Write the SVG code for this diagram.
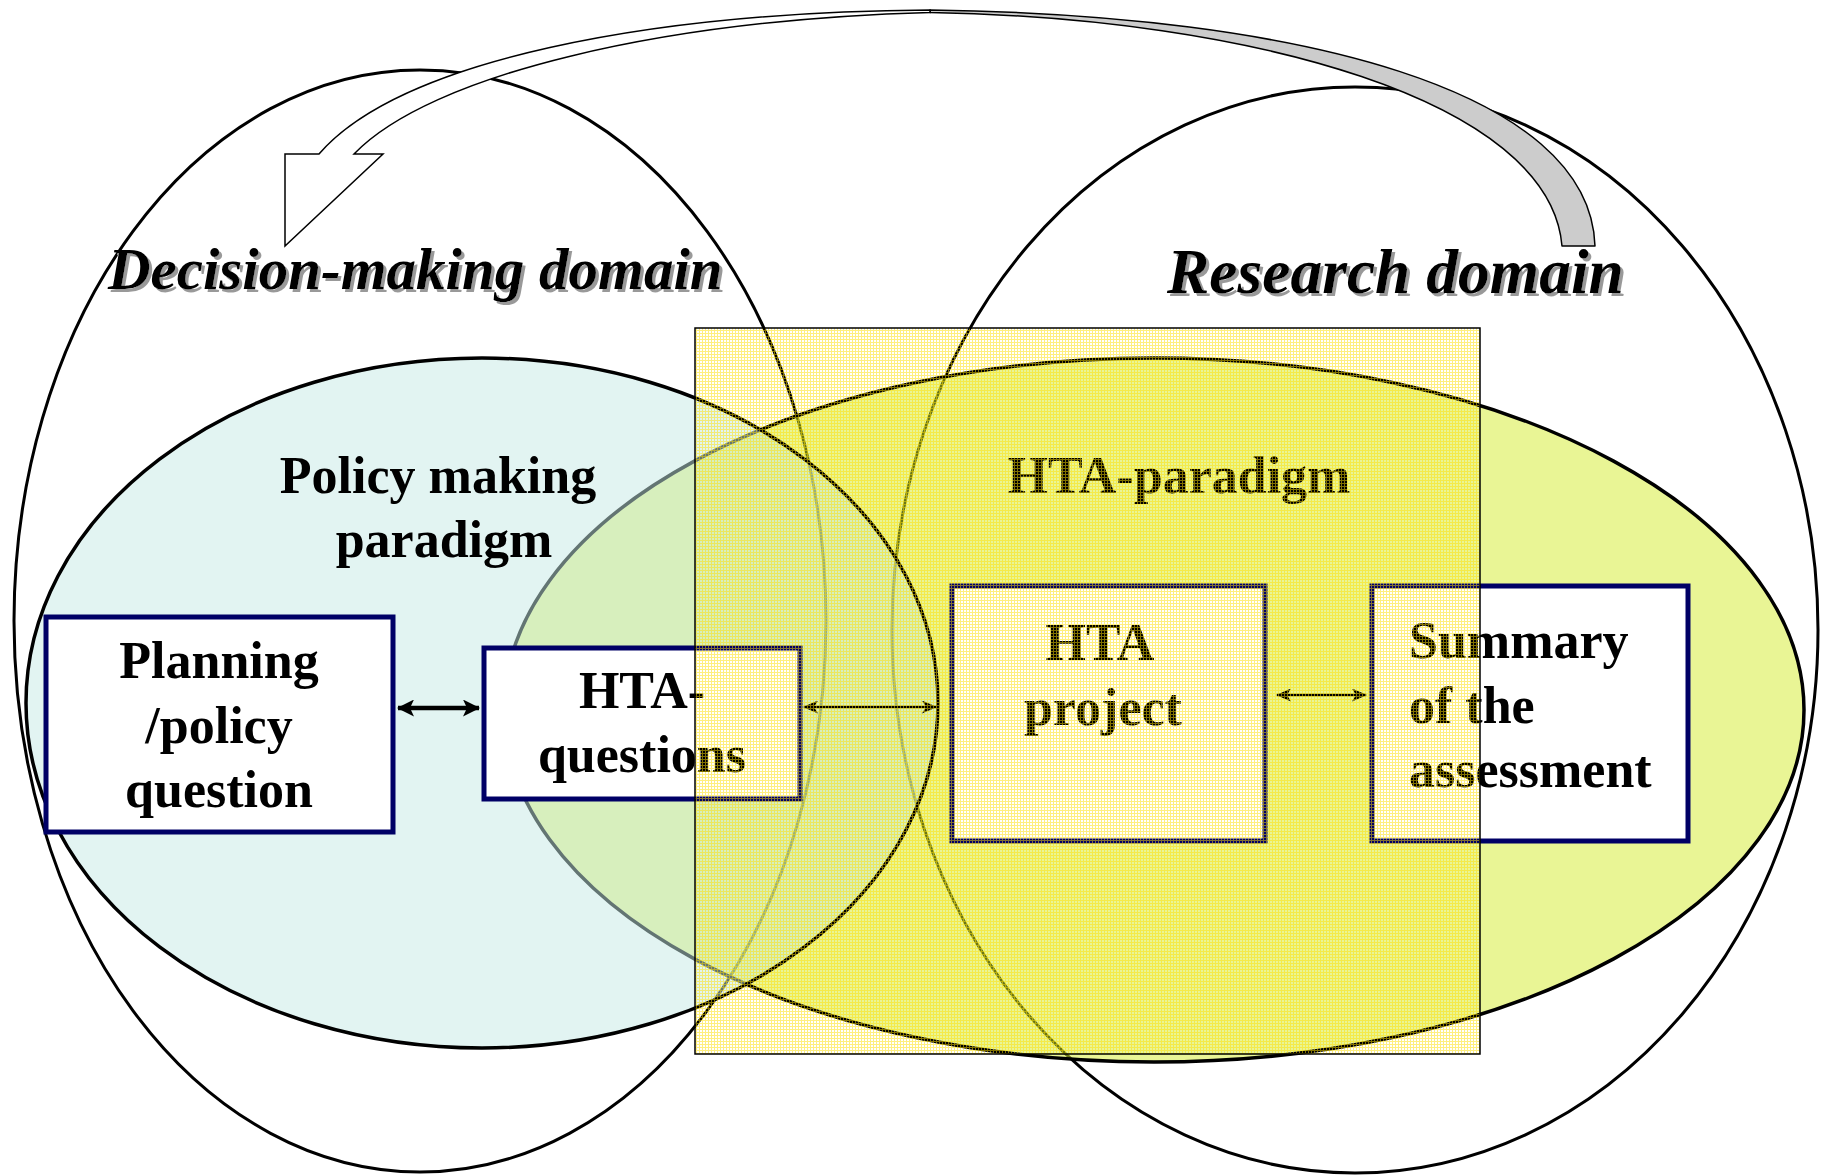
<svg xmlns="http://www.w3.org/2000/svg" width="1821" height="1175" viewBox="0 0 1821 1175">
<style>
.dom{fill:none;stroke:#000;stroke-width:3}
.par{stroke:#000;stroke-width:3.5}
.box{fill:#fff;stroke:#000066;stroke-width:5}
.t{font-family:"Liberation Serif","Times New Roman",serif;font-weight:bold;font-size:52px;fill:#000}
.title{font-family:"Liberation Serif","Times New Roman",serif;font-weight:bold;font-style:italic;fill:#000;filter:url(#sh)}
.con{stroke:#000;fill:none}
</style>
<defs>
<filter id="sh" x="-5%" y="-20%" width="110%" height="140%">
<feDropShadow dx="3" dy="3" stdDeviation="0.3" flood-color="#999" flood-opacity="1"/>
</filter>
<pattern id="grid" x="0" y="0" width="3" height="3" patternUnits="userSpaceOnUse">
<rect x="0" y="0" width="3" height="1" fill="#ffe000" fill-opacity="0.5"/>
<rect x="0" y="1" width="1" height="2" fill="#ffe000" fill-opacity="0.5"/>
</pattern>
<marker id="ah1" viewBox="0 0 17 17" refX="16" refY="8.5" markerWidth="17" markerHeight="17" markerUnits="userSpaceOnUse" orient="auto-start-reverse">
<path d="M0,0 L17,8.5 L0,17 L4,8.5 Z" fill="#000"/>
</marker>
<marker id="ah2" viewBox="0 0 15 13" refX="14" refY="6.5" markerWidth="15" markerHeight="13" markerUnits="userSpaceOnUse" orient="auto-start-reverse">
<path d="M0,0 L15,6.5 L0,13 L4,6.5 Z" fill="#000"/>
</marker>
</defs>
<rect width="1821" height="1175" fill="#fff"/>

<g id="decision-domain">
<ellipse class="dom" cx="420" cy="621" rx="406" ry="551"/>
</g>
<g id="research-domain">
<ellipse class="dom" cx="1355" cy="630" rx="463" ry="543"/>
</g>
<g id="hta-paradigm">
<ellipse class="par" cx="1154" cy="710" rx="650" ry="352" fill="#d4ec2c" fill-opacity="0.5"/>
<text class="t" x="1179" y="493" text-anchor="middle">HTA-paradigm</text>
</g>
<g id="policy-paradigm">
<ellipse class="par" cx="482" cy="703" rx="456" ry="345" fill="#c5e9e5" fill-opacity="0.5"/>
<text class="t" text-anchor="middle"><tspan x="438" y="493">Policy making</tspan><tspan x="444" y="557">paradigm</tspan></text>
</g>

<g id="planning">
<rect class="box" x="46" y="617" width="347" height="215"/>
<text class="t" text-anchor="middle"><tspan x="219" y="678">Planning</tspan><tspan x="219" y="743">/policy</tspan><tspan x="219" y="807">question</tspan></text>
</g>
<g id="hta-questions">
<rect class="box" x="484" y="648" width="316" height="151"/>
<text class="t" text-anchor="middle"><tspan x="642" y="708">HTA-</tspan><tspan x="642" y="772">questions</tspan></text>
</g>
<g id="hta-project">
<rect class="box" x="952" y="586" width="313" height="255"/>
<text class="t" text-anchor="middle"><tspan x="1100" y="660">HTA</tspan><tspan x="1103" y="725">project</tspan></text>
</g>
<g id="summary">
<rect class="box" x="1372" y="586" width="316" height="255"/>
<text class="t"><tspan x="1409" y="658">Summary</tspan><tspan x="1409" y="723">of the</tspan><tspan x="1409" y="787">assessment</tspan></text>
</g>

<g id="connectors">
<line class="con" x1="398" y1="708" x2="479" y2="708" stroke-width="4.5" marker-start="url(#ah1)" marker-end="url(#ah1)"/>
<line class="con" x1="804" y1="707" x2="936" y2="707" stroke-width="2.5" marker-start="url(#ah2)" marker-end="url(#ah2)"/>
<line class="con" x1="1277" y1="695" x2="1366" y2="695" stroke-width="2.5" marker-start="url(#ah2)" marker-end="url(#ah2)"/>
</g>

<g id="hta-overlay">
<rect x="695" y="328" width="785" height="726" fill="url(#grid)" stroke="#000" stroke-width="1.5"/>
</g>

<g id="curved-arrow">
<path d="M930,10 C1300,15 1590,90 1595,246 L1562,246 C1550,100 1250,18 930,12.5 Z" fill="#cccccc" stroke="#000" stroke-width="1.5" stroke-linejoin="round"/>
<path d="M319,154 C400,60 650,12 930,10 L930,12.5 C660,20 430,75 354,154 L383,154 L285,246 L285,154 Z" fill="#fff" stroke="#000" stroke-width="1.5" stroke-linejoin="miter"/>
</g>

<g id="titles">
<text class="title" x="108" y="289" font-size="59">Decision-making domain</text>
<text class="title" x="1167" y="293" font-size="63.5">Research domain</text>
</g>
</svg>
